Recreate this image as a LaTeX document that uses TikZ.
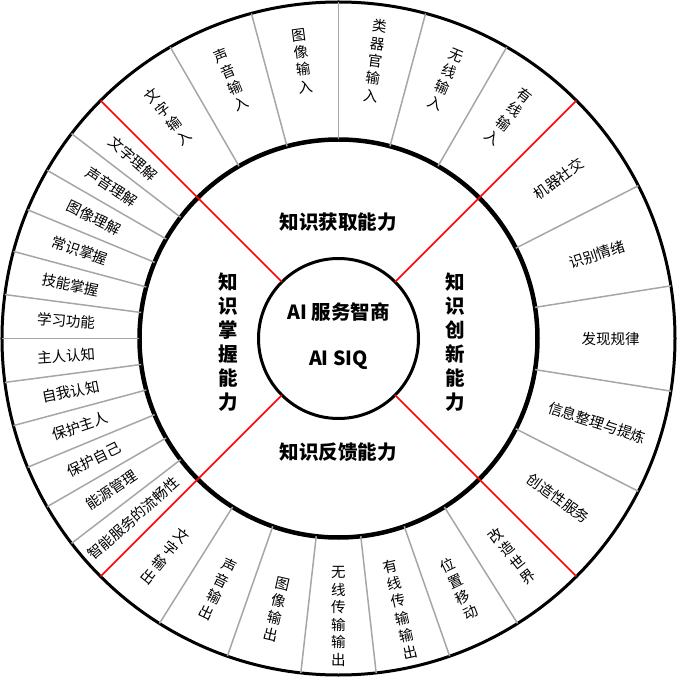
\documentclass[tikz,border=0pt]{standalone}
\usepackage{fontspec}
\setmainfont{Noto Sans CJK SC}
\usetikzlibrary{calc}

\begin{document}
\begin{tikzpicture}[
    x=1pt, y=1pt,
    ring/.style={draw=black, line width=3pt},
    midring/.style={draw=black, line width=4.5pt},
    divider/.style={draw=black!35, line width=1.5pt},
    quadline/.style={draw=red, line width=1.7pt},
    itemlabel/.style={font=\fontsize{14.5}{17.5}\selectfont, align=center, inner sep=0pt},
    titlelabel/.style={font=\fontsize{19.5}{24}\selectfont\bfseries, align=center, inner sep=0pt},
    corelabel/.style={font=\fontsize{19.5}{24}\selectfont\bfseries, inner sep=0pt}
]
    \useasboundingbox (-338.5,-338.5) rectangle (338.5,338.5);
    \coordinate (O) at (0,0);

    % Rings
    \draw[ring] (O) circle (336.5);
    \draw[midring] (O) circle (199);
    \draw[ring] (O) circle (80);

    % Dividers: acquisition (top) and creation (right)
    \foreach \a in {120,105,90,75,60, 27,9,-9,-27} {
        \draw[divider] (\a:199) -- (\a:336.5);
    }
    % Dividers: feedback (bottom)
    \foreach \k in {1,...,6} {
        \draw[divider] ({-45-\k*90/7}:199) -- ({-45-\k*90/7}:336.5);
    }
    % Dividers: mastery (left)
    \foreach \k in {1,...,11} {
        \draw[divider] ({135+\k*7.5}:199) -- ({135+\k*7.5}:336.5);
    }

    % Quadrant borders
    \foreach \a in {45,135,225,315} {
        \draw[quadline] (\a:80) -- (\a:336.5);
    }

    % Acquisition inputs
    \foreach \txt [count=\i, evaluate=\i as \a using 142.5-15*\i] in
        {{文\\字\\输\\入}, {声\\音\\输\\入}, {图\\像\\输\\入},
         {类\\器\\官\\输\\入}, {无\\线\\输\\入}, {有\\线\\输\\入}} {
        \node[itemlabel, rotate=\a-90] (in\i) at (\a:280) {\txt};
    }

    % Creation items
    \foreach \txt [count=\i, evaluate=\i as \a using 54-18*\i] in
        {机器社交, 识别情绪, 发现规律, 信息整理与提炼, 创造性服务} {
        \node[itemlabel, rotate=\a] (cr\i) at (\a:272) {\txt};
    }

    % Feedback outputs
    \foreach \txt [count=\i, evaluate=\i as \a using -45-90/7*(\i-0.5)] in
        {{改\\造\\世\\界}, {位\\置\\移\\动}, {有\\线\\传\\输\\输\\出},
         {无\\线\\传\\输\\输\\出}, {图\\像\\输\\出}, {声\\音\\输\\出}, {文\\字\\输\\出}} {
        \node[itemlabel, rotate=\a+90] (out\i) at (\a:278) {\txt};
    }

    % Mastery items
    \foreach \txt [count=\i, evaluate=\i as \a using 135+7.5*(\i-0.5)] in
        {文字理解, 声音理解, 图像理解, 常识掌握, 技能掌握, 学习功能,
         主人认知, 自我认知, 保护主人, 保护自己, 能源管理, 智能服务的流畅性} {
        \node[itemlabel, rotate=\a-180] (ms\i) at (\a:273) {\txt};
    }

    % Quadrant titles
    \node[titlelabel] (acquire) at (0,116) {知识获取能力};
    \node[titlelabel] (feedback) at (0,-114) {知识反馈能力};
    \node[titlelabel] (master) at (-110,-4) {知\\识\\掌\\握\\能\\力};
    \node[titlelabel] (create) at (117,-4) {知\\识\\创\\新\\能\\力};

    % Core
    \node[corelabel] (siq) at (0,26) {AI 服务智商};
    \node[corelabel] (siqen) at (0,-22) {AI SIQ};

\end{tikzpicture}
\end{document}
